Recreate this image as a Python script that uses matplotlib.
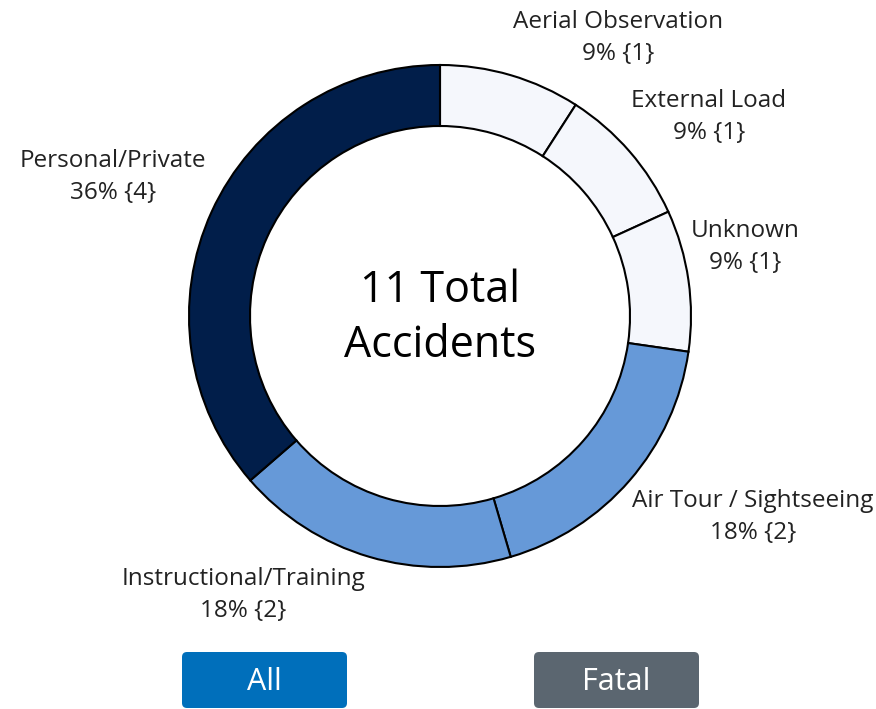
import matplotlib.pyplot as plt
from matplotlib.patches import FancyBboxPatch

# accident counts by operation type, clockwise from 12 o'clock
categories = ['Aerial Observation', 'External Load', 'Unknown',
              'Air Tour / Sightseeing', 'Instructional/Training', 'Personal/Private']
counts = [1, 1, 1, 2, 2, 4]
colors = ['#f5f7fc', '#f5f7fc', '#f5f7fc', '#6699d8', '#6699d8', '#011e4a']
total = sum(counts)

# label centre points (pixel space, y from top)
label_pos = [(618, 38), (709, 117), (745, 247), (753, 517), (243, 595), (113, 177)]

plt.rcParams['font.family'] = ['Open Sans', 'DejaVu Sans']

W, H = 876, 709
fig = plt.figure(figsize=(W / 100, H / 100), dpi=100)
ax = fig.add_axes([0, 0, 1, 1])

cx, cy, r_out, r_in = 440, H - 316, 251, 190
ax.pie(counts, colors=colors, startangle=90, counterclock=False,
       center=(cx, cy), radius=r_out, frame=True,
       wedgeprops=dict(width=r_out - r_in, edgecolor='black', linewidth=1.5))
ax.set_xlim(0, W)
ax.set_ylim(0, H)
ax.set_aspect('equal')
ax.axis('off')

for name, n, (px, py) in zip(categories, counts, label_pos):
    pct = round(100 * n / total)
    ax.text(px, H - py, f'{name}\n{pct}% {{{n}}}', ha='center', va='center',
            fontsize=17.5, color='#222222', linespacing=1.4)

ax.text(cx, H - 318, '11 Total\nAccidents', ha='center', va='center',
        fontsize=31, color='black', linespacing=1.32)

# toggle buttons
for x0, label, col in [(182, 'All', '#006fbb'), (534, 'Fatal', '#5b6670')]:
    btn = FancyBboxPatch((x0, H - 708), 165, 56,
                         boxstyle='round,pad=0,rounding_size=5',
                         facecolor=col, edgecolor='none')
    ax.add_patch(btn)
    ax.text(x0 + 82.5, H - 682, label, ha='center', va='center',
            fontsize=22, color='white')

fig.savefig('out.png', dpi=100)
